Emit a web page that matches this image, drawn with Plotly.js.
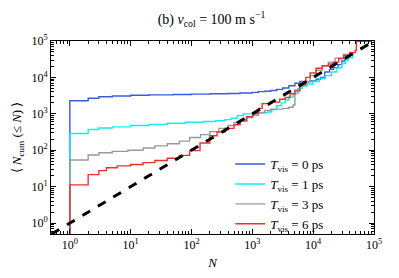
<!DOCTYPE html>
<html>
<head>
<meta charset="utf-8">
<script src="https://cdn.plot.ly/plotly-3.0.1.min.js"></script>
<style>html,body{margin:0;padding:0;background:#fff;}#chart{width:399px;height:278px;}</style>
</head>
<body>
<div id="chart"></div>
<script>
// ---- data ----
const seriesNames = ["<i>T</i><sub>vis</sub> = 0 ps", "<i>T</i><sub>vis</sub> = 1 ps", "<i>T</i><sub>vis</sub> = 3 ps", "<i>T</i><sub>vis</sub> = 6 ps"];

const blueN = [1, 1, 2, 3, 5, 10, 20, 50, 100, 200, 400, 630, 1000, 1260, 1580, 2000, 2510, 3160, 3980, 5010, 6030, 8910, 11200, 13200, 15500, 18600, 21400, 25700, 29500, 33100, 36300, 40700, 44700];
const blueY = [0.1, 2290, 2690, 2950, 3090, 3240, 3310, 3390, 3470, 3550, 3630, 3720, 3890, 4070, 4170, 4370, 4680, 5130, 5890, 6920, 7760, 7940, 8910, 10000, 14100, 16600, 18600, 22400, 28200, 33100, 38900, 43700, 47900];

const cyanN = [1, 1, 2, 3, 5, 10, 20, 40, 79, 158, 251, 355, 447, 562, 708, 1000, 1410, 1780, 2090, 2510, 3020, 3470, 3980, 4680, 5620, 6610, 7940, 10000, 12600, 15800, 20000, 24500, 29500, 33900, 38000, 44700];
const cyanY = [0.1, 288, 372, 407, 437, 479, 513, 550, 589, 617, 646, 692, 759, 891, 1000, 1070, 1070, 1120, 1320, 1660, 2000, 2400, 2880, 3630, 5010, 5750, 6610, 7760, 9330, 11200, 14100, 18200, 24000, 29500, 34700, 43700];

const grayN = [1, 1, 2, 3, 5, 9, 16, 25, 40, 63, 93, 141, 200, 282, 398, 501, 631, 794, 1000, 1260, 1580, 2000, 3160, 3980, 4680, 5010, 6030, 6760, 8910, 11200, 14100, 17800, 22900, 31600, 40700];
const grayY = [0.1, 54, 74, 85, 93, 100, 115, 132, 151, 178, 224, 269, 324, 398, 479, 575, 676, 794, 912, 1070, 1230, 1350, 1410, 1510, 1740, 4070, 5620, 7590, 11200, 15800, 20900, 26300, 33900, 42700, 51300];

const redN = [1, 1, 2, 3, 4, 6, 10, 16, 25, 40, 63, 93, 138, 200, 263, 355, 501, 631, 813, 1020, 1260, 1450, 2000, 2820, 3470, 4170, 5010, 6030, 7590, 8910, 11200, 14100, 17800, 21400, 26300, 31600, 39800, 49000, 51300, 93300];
const redY = [0.1, 11.2, 21.4, 27.5, 33.1, 37.2, 40.7, 45.7, 52.5, 60.3, 72.4, 97.7, 158, 251, 316, 398, 501, 631, 832, 1020, 1410, 1910, 2090, 2510, 2820, 3550, 4470, 6310, 10000, 13200, 17800, 20900, 23400, 26300, 33100, 39800, 47900, 55000, 97700, 97700];

const refN = [0.5, 100000];   // N_cum = N reference line
const refY = [0.5, 100000];

const tickVals = [1, 10, 100, 1000, 10000, 100000];
const tickText = ["10<sup>0</sup>", "10<sup>1</sup>", "10<sup>2</sup>", "10<sup>3</sup>", "10<sup>4</sup>", "10<sup>5</sup>"];

const colors = ["#3b5bdb", "#11eeee", "#999999", "#ee3030"];

// ---- minor ticks (2..9 x decade) ----
const minorVals = [];
for (let d = -1; d <= 5; d++) for (let m = 2; m <= 9; m++) minorVals.push(m * Math.pow(10, d));

const serif = "Liberation Serif, Times New Roman, serif";

const series = [[blueN, blueY], [cyanN, cyanY], [grayN, grayY], [redN, redY]];
const traces = series.map((s, i) => ({
  x: s[0], y: s[1], mode: "lines", type: "scatter",
  line: {color: colors[i], width: 1.4, shape: "hv"},
  name: seriesNames[i]
}));
traces.push({
  x: refN, y: refY, mode: "lines", type: "scatter",
  line: {color: "#000", width: 3, dash: "dash"},
  showlegend: false
});

function axis(title, range) {
  return {
    type: "log", range: range, autorange: false,
    showgrid: false, zeroline: false,
    showline: true, linecolor: "#000", linewidth: 1, mirror: "allticks",
    ticks: "inside", ticklen: 5, tickwidth: 1, tickcolor: "#000",
    tickmode: "array", tickvals: tickVals, ticktext: tickText,
    tickfont: {family: serif, size: 12, color: "#000"},
    minor: {ticks: "inside", ticklen: 3, tickwidth: 1, tickcolor: "#000", tickmode: "array", tickvals: minorVals, showgrid: false},
    title: {text: title, font: {family: serif, size: 13, color: "#000"}, standoff: 6}
  };
}

const layout = {
  width: 399, height: 278,
  margin: {l: 51, r: 25, t: 41, b: 44, pad: 0},
  paper_bgcolor: "#fff", plot_bgcolor: "#fff",
  title: {text: "(b) <i>v</i><sub>col</sub> = 100 m s<sup>−1</sup>", font: {family: serif, size: 14, color: "#000"}, x: 0.53, xanchor: "center", y: 0.93, yanchor: "middle"},
  xaxis: axis("<i>N</i>", [Math.log10(0.49), 5]),
  yaxis: axis("⟨ <i>N</i><sub>cum</sub> (≤ <i>N</i>) ⟩", [-0.3, 5]),
  showlegend: true,
  legend: {x: 0.555, xanchor: "left", y: 0.44, yanchor: "top", bgcolor: "rgba(255,255,255,0)",
           font: {family: serif, size: 13, color: "#000"}, tracegroupgap: 0, itemwidth: 30},
};

Plotly.newPlot("chart", traces, layout, {displayModeBar: false, staticPlot: true});
</script>
</body>
</html>
